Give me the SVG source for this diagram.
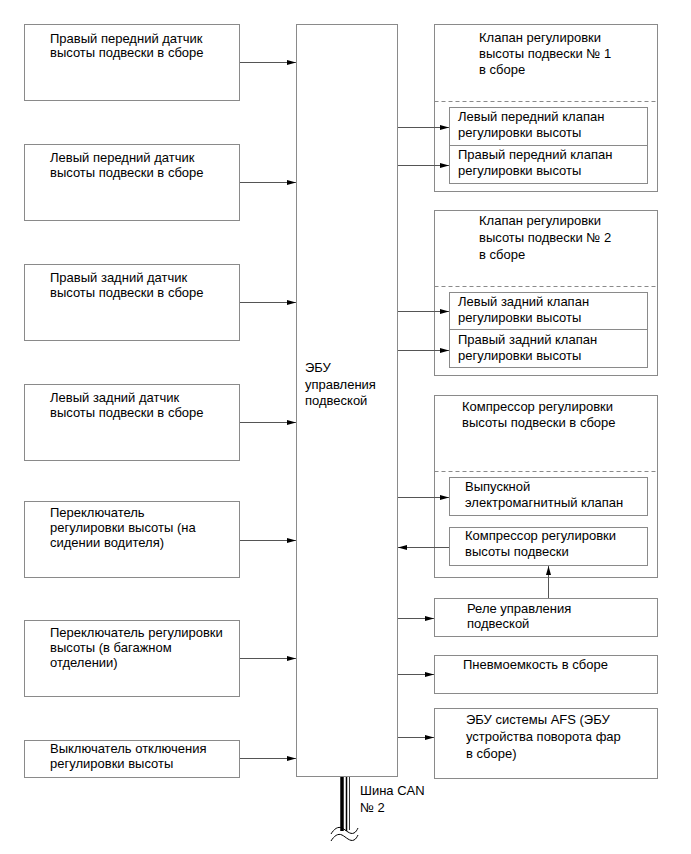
<svg xmlns="http://www.w3.org/2000/svg" width="691" height="854" viewBox="0 0 691 854">
<defs>
<marker id="ah" markerWidth="10" markerHeight="8" refX="9" refY="4" orient="auto" markerUnits="userSpaceOnUse">
<path d="M0,1.5 L9,4 L0,6.5 Z" fill="#000"/>
</marker>
</defs>
<style>
.box{fill:#fff;stroke:#8a8a8a;stroke-width:1}
.in{fill:#fff;stroke:#8a8a8a;stroke-width:1}
.dash{stroke:#8a8a8a;stroke-width:1;stroke-dasharray:4,3;fill:none}
.c{stroke:#555;stroke-width:1;fill:none;marker-end:url(#ah)}
text{font-family:"Liberation Sans",Arial,sans-serif;font-size:13px;fill:#000}
</style>
<rect width="691" height="854" fill="#fff"/>

<g id="left1"><rect class="box" x="24.5" y="24.5" width="215" height="76"/>
<text x="50" y="43">Правый передний датчик</text><text x="50" y="57">высоты подвески в сборе</text></g>
<g id="left2"><rect class="box" x="24.5" y="144.5" width="215" height="76"/>
<text x="50" y="162">Левый передний датчик</text><text x="50" y="177">высоты подвески в сборе</text></g>
<g id="left3"><rect class="box" x="24.5" y="264.5" width="215" height="76"/>
<text x="50" y="282">Правый задний датчик</text><text x="50" y="297">высоты подвески в сборе</text></g>
<g id="left4"><rect class="box" x="24.5" y="384.5" width="215" height="76"/>
<text x="50" y="402">Левый задний датчик</text><text x="50" y="417">высоты подвески в сборе</text></g>
<g id="left5"><rect class="box" x="24.5" y="501.5" width="215" height="76"/>
<text x="50" y="517">Переключатель</text><text x="50" y="532">регулировки высоты (на</text><text x="50" y="547">сидении водителя)</text></g>
<g id="left6"><rect class="box" x="24.5" y="620.5" width="215" height="76"/>
<text x="50" y="637">Переключатель регулировки</text><text x="50" y="652">высоты (в багажном</text><text x="50" y="667">отделении)</text></g>
<g id="left7"><rect class="box" x="24.5" y="740.5" width="215" height="37"/>
<text x="50" y="753">Выключатель отключения</text><text x="50" y="768">регулировки высоты</text></g>

<g id="ecu"><rect class="box" x="296.5" y="24.5" width="101" height="752"/>
<text x="305" y="372">ЭБУ</text><text x="305" y="389">управления</text><text x="305" y="405">подвеской</text></g>

<g id="valve1"><rect class="box" x="434.5" y="24.5" width="223" height="167"/>
<text x="479" y="42">Клапан регулировки</text><text x="479" y="58">высоты подвески № 1</text><text x="479" y="74">в сборе</text>
<line class="dash" x1="434.5" y1="101.5" x2="657.5" y2="101.5"/>
<rect class="in" x="449.5" y="107.5" width="198" height="38"/>
<text x="458" y="121">Левый передний клапан</text><text x="458" y="137">регулировки высоты</text>
<rect class="in" x="449.5" y="145.5" width="198" height="38"/>
<text x="458" y="159">Правый передний клапан</text><text x="458" y="175">регулировки высоты</text></g>

<g id="valve2"><rect class="box" x="434.5" y="210.5" width="223" height="165"/>
<text x="479" y="225">Клапан регулировки</text><text x="479" y="242">высоты подвески № 2</text><text x="479" y="259">в сборе</text>
<line class="dash" x1="434.5" y1="286.5" x2="657.5" y2="286.5"/>
<rect class="in" x="449.5" y="292.5" width="198" height="37"/>
<text x="458" y="306">Левый задний клапан</text><text x="458" y="322">регулировки высоты</text>
<rect class="in" x="449.5" y="329.5" width="198" height="38"/>
<text x="458" y="344">Правый задний клапан</text><text x="458" y="360">регулировки высоты</text></g>

<g id="compressor"><rect class="box" x="434.5" y="395.5" width="223" height="182"/>
<text x="462" y="411">Компрессор регулировки</text><text x="462" y="427">высоты подвески в сборе</text>
<line class="dash" x1="434.5" y1="471.5" x2="657.5" y2="471.5"/>
<rect class="in" x="449.5" y="477.5" width="198" height="38"/>
<text x="465" y="491">Выпускной</text><text x="465" y="507">электромагнитный клапан</text>
<rect class="in" x="449.5" y="527.5" width="198" height="38"/>
<text x="465" y="540">Компрессор регулировки</text><text x="465" y="556">высоты подвески</text></g>

<g id="relay"><rect class="box" x="434.5" y="598.5" width="223" height="38"/>
<text x="467" y="613">Реле управления</text><text x="467" y="628">подвеской</text></g>
<g id="tank"><rect class="box" x="434.5" y="655.5" width="223" height="38"/>
<text x="463" y="669">Пневмоемкость в сборе</text></g>
<g id="afs"><rect class="box" x="434.5" y="708.5" width="223" height="70"/>
<text x="466" y="724">ЭБУ системы AFS (ЭБУ</text><text x="466" y="741">устройства поворота фар</text><text x="466" y="758">в сборе)</text></g>

<g id="connectors">
<line class="c" x1="240" y1="62.5" x2="296" y2="62.5"/>
<line class="c" x1="240" y1="182.5" x2="296" y2="182.5"/>
<line class="c" x1="240" y1="302.5" x2="296" y2="302.5"/>
<line class="c" x1="240" y1="422.5" x2="296" y2="422.5"/>
<line class="c" x1="240" y1="540.5" x2="296" y2="540.5"/>
<line class="c" x1="240" y1="658.5" x2="296" y2="658.5"/>
<line class="c" x1="240" y1="758.5" x2="296" y2="758.5"/>
<line class="c" x1="398" y1="127.5" x2="449" y2="127.5"/>
<line class="c" x1="398" y1="165.5" x2="449" y2="165.5"/>
<line class="c" x1="398" y1="311.5" x2="449" y2="311.5"/>
<line class="c" x1="398" y1="350.5" x2="449" y2="350.5"/>
<line class="c" x1="398" y1="497.5" x2="449" y2="497.5"/>
<line class="c" x1="449" y1="547.5" x2="398" y2="547.5"/>
<line class="c" x1="548.5" y1="598" x2="548.5" y2="566"/>
<line class="c" x1="398" y1="618.5" x2="434" y2="618.5"/>
<line class="c" x1="398" y1="674.5" x2="434" y2="674.5"/>
<line class="c" x1="398" y1="737.5" x2="434" y2="737.5"/>
</g>

<g id="canbus">
<line x1="342" y1="777" x2="342" y2="831" stroke="#000" stroke-width="3.5"/>
<line x1="346.5" y1="777" x2="346.5" y2="831" stroke="#000" stroke-width="1.5"/>
<line x1="349.5" y1="777" x2="349.5" y2="830" stroke="#333" stroke-width="1"/>
<path d="M331,834 C334,829 338,826 342,828 C346,830 350,835 354,833 C356,832 357,830 358,828" fill="none" stroke="#000" stroke-width="1"/>
<path d="M331,841 C334,836 338,833 342,835 C346,837 350,842 354,840 C356,839 357,837 358,835" fill="none" stroke="#000" stroke-width="1"/>
<text x="360" y="795">Шина CAN</text><text x="360" y="812">№ 2</text>
</g>
</svg>
